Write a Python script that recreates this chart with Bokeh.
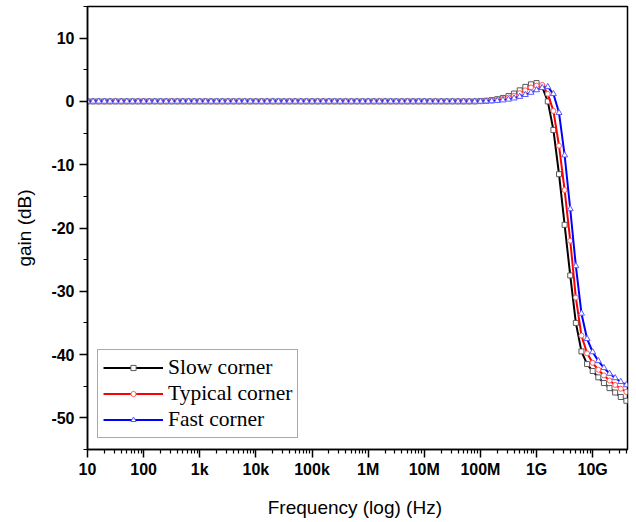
import numpy as np
from bokeh.plotting import figure
from bokeh.models import Range1d, FixedTicker, Legend, LegendItem
from bokeh.embed import file_html
from bokeh.resources import INLINE

# Frequency sweep: 10 points per decade from 10 Hz to ~40 GHz
freq = np.logspace(1, 10.6, 97)

# gain (dB) for each corner
slow_gain = [
    0, 0, 0, 0, 0, 0, 0, 0, 0, 0,
    0, 0, 0, 0, 0, 0, 0, 0, 0, 0,
    0, 0, 0, 0, 0, 0, 0, 0, 0, 0,
    0, 0, 0, 0, 0, 0, 0, 0, 0, 0,
    0, 0, 0, 0, 0, 0, 0, 0, 0, 0,
    0, 0, 0, 0, 0, 0, 0, 0, 0, 0,
    0, 0, 0, 0, 0, 0, 0, 0, 0, 0,
    0.05, 0.1, 0.2, 0.35, 0.55, 0.85, 1.25, 1.75, 2.3, 2.7,
    2.9, 2.3, 0.0, -4.5, -11.5, -19.5, -27.5, -35.0, -39.5, -41.5,
    -42.6, -43.6, -44.5, -45.3, -46.0, -46.7, -47.3,
]
typical_gain = [
    0, 0, 0, 0, 0, 0, 0, 0, 0, 0,
    0, 0, 0, 0, 0, 0, 0, 0, 0, 0,
    0, 0, 0, 0, 0, 0, 0, 0, 0, 0,
    0, 0, 0, 0, 0, 0, 0, 0, 0, 0,
    0, 0, 0, 0, 0, 0, 0, 0, 0, 0,
    0, 0, 0, 0, 0, 0, 0, 0, 0, 0,
    0, 0, 0, 0, 0, 0, 0, 0, 0, 0,
    0.03, 0.06, 0.12, 0.22, 0.38, 0.6, 0.9, 1.3, 1.75, 2.2,
    2.5, 2.6, 1.2, -1.5, -7.0, -14.0, -22.0, -31.0, -37.0, -39.8,
    -41.3, -42.4, -43.3, -44.1, -44.8, -45.4, -45.9,
]
fast_gain = [
    0, 0, 0, 0, 0, 0, 0, 0, 0, 0,
    0, 0, 0, 0, 0, 0, 0, 0, 0, 0,
    0, 0, 0, 0, 0, 0, 0, 0, 0, 0,
    0, 0, 0, 0, 0, 0, 0, 0, 0, 0,
    0, 0, 0, 0, 0, 0, 0, 0, 0, 0,
    0, 0, 0, 0, 0, 0, 0, 0, 0, 0,
    0, 0, 0, 0, 0, 0, 0, 0, 0, 0,
    0.0, 0.03, 0.06, 0.12, 0.2, 0.32, 0.5, 0.75, 1.05, 1.4,
    1.8, 2.15, 2.3, 1.2, -1.8, -8.5, -17.0, -26.0, -33.5, -37.5,
    -39.6, -41.0, -42.1, -43.0, -43.7, -44.3, -44.8,
]

series_names = ["Slow corner", "Typical corner", "Fast corner"]

x_major = [1e1, 1e2, 1e3, 1e4, 1e5, 1e6, 1e7, 1e8, 1e9, 1e10]
x_labels = ["10", "100", "1k", "10k", "100k", "1M", "10M", "100M", "1G", "10G"]
y_major = [-50, -40, -30, -20, -10, 0, 10]
y_labels = ["-50", "-40", "-30", "-20", "-10", "0", "10"]
y_minor = [-55, -45, -35, -25, -15, -5, 5, 15]

x_minor = []
for d in x_major:
    for m in range(2, 10):
        v = d * m
        if v < 4.2e10:
            x_minor.append(v)

p = figure(
    width=636, height=522,
    x_axis_type="log",
    x_range=Range1d(10, 4.17e10), y_range=Range1d(-55, 15),
    output_backend="svg", toolbar_location=None,
    min_border_left=87, min_border_right=9, min_border_top=6, min_border_bottom=73,
)
p.background_fill_color = "white"
p.border_fill_color = "white"
p.grid.visible = False
p.outline_line_color = "black"
p.outline_line_width = 1.5
p.outline_line_alpha = 1.0

p.xaxis.ticker = FixedTicker(ticks=x_major, minor_ticks=x_minor)
p.xaxis.major_label_overrides = {v: t for v, t in zip(x_major, x_labels)}
p.yaxis.ticker = FixedTicker(ticks=y_major, minor_ticks=y_minor)
p.yaxis.major_label_overrides = {v: t for v, t in zip(y_major, y_labels)}

p.xaxis.axis_label = "Frequency (log)  (Hz)"
p.yaxis.axis_label = "gain (dB)"

for ax in (p.xaxis[0], p.yaxis[0]):
    ax.axis_line_width = 1.5
    ax.axis_line_color = "black"
    ax.major_tick_line_width = 1.5
    ax.minor_tick_line_width = 1.2
    ax.major_tick_line_color = "black"
    ax.minor_tick_line_color = "black"
    ax.major_tick_out = 8
    ax.major_tick_in = 0
    ax.minor_tick_out = 4
    ax.minor_tick_in = 0
    ax.major_label_text_font = "Liberation Sans"
    ax.major_label_text_font_style = "bold"
    ax.major_label_text_font_size = "16px"
    ax.major_label_text_color = "black"
    ax.axis_label_text_font = "Liberation Sans"
    ax.axis_label_text_font_style = "normal"
    ax.axis_label_text_font_size = "19px"
    ax.axis_label_text_color = "black"
p.xaxis.major_label_standoff = 3
p.yaxis.major_label_standoff = 5
p.xaxis.axis_label_standoff = 16
p.yaxis.axis_label_standoff = 13

line_colors = ["black", "#ff0000", "#0000ff"]
marker_colors = ["#5a5a5a", "#ff5a5a", "#5a5aff"]
markers = ["square", "circle", "triangle"]
marker_sizes = [5, 5, 6]

items = []
for name, ys, lc, mc, mk, ms in zip(series_names, [slow_gain, typical_gain, fast_gain],
                                     line_colors, marker_colors, markers, marker_sizes):
    lr = p.line(freq, ys, line_color=lc, line_width=2)
    sr = p.scatter(freq, ys, marker=mk, size=ms, line_color=mc, fill_color="white", line_width=1)
    items.append(LegendItem(label=name, renderers=[lr, sr]))

legend = Legend(
    items=items, location=(10, 11),
    label_text_font="Liberation Serif", label_text_font_size="21.5px", label_text_color="black",
    glyph_width=60, glyph_height=13, label_height=25, label_standoff=5,
    padding=5, spacing=1, margin=0,
    border_line_color="#555555", border_line_width=1.5,
    background_fill_color="white", background_fill_alpha=1.0,
)
p.add_layout(legend)

open("out.html", "w").write(file_html(p, INLINE))
